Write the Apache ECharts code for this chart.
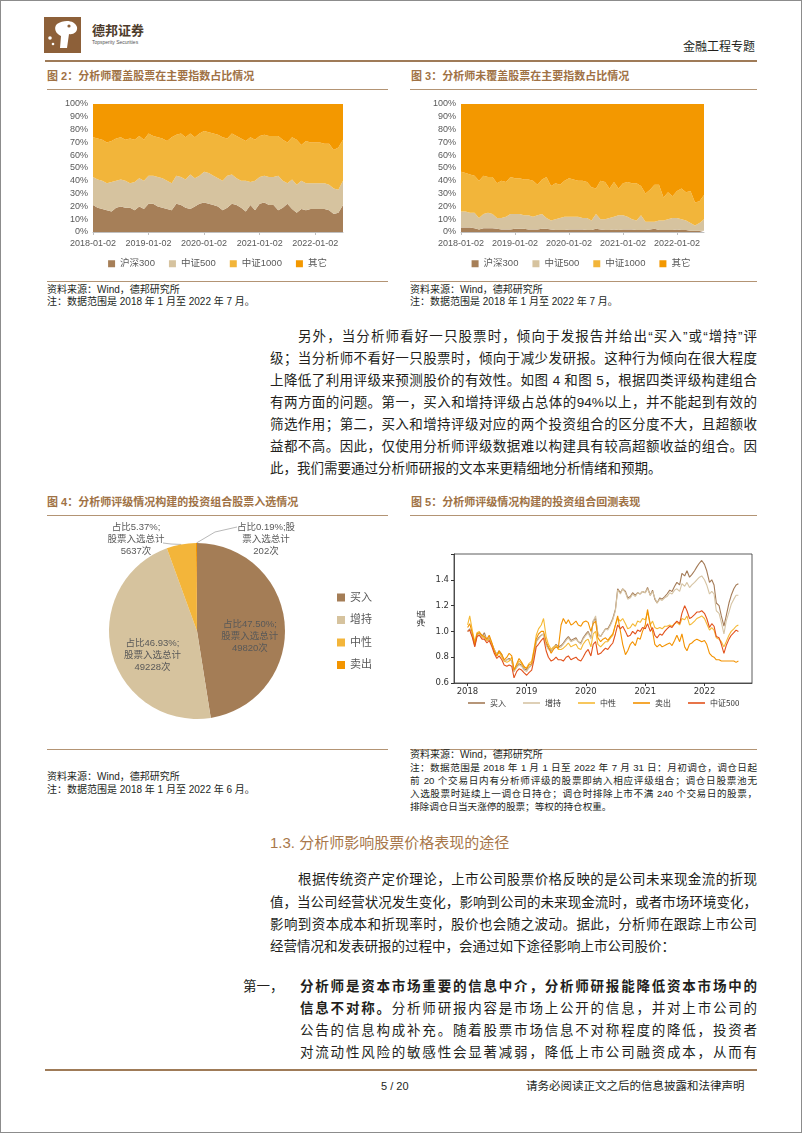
<!DOCTYPE html>
<html lang="zh-CN">
<head>
<meta charset="UTF-8">
<title>金融工程专题</title>
<script src="https://cdn.jsdelivr.net/npm/echarts@6/dist/echarts.min.js"></script>
<style>
*{margin:0;padding:0;}
body{width:802px;height:1133px;position:relative;background:#fff;overflow:hidden;
  font-family:"Liberation Sans","Noto Sans CJK SC",sans-serif;color:#231f1c;}
.frame{position:absolute;left:0;top:0;width:800px;height:1131px;border:1px solid #8c8c8c;}
.t{position:absolute;white-space:nowrap;line-height:1;}
.j{position:absolute;text-align:justify;text-align-last:justify;line-height:1;}
.rule{position:absolute;height:1px;background:#b39474;}
.bar{position:absolute;height:2px;background:#9f7b58;}
.ftitle{color:#a07245;font-weight:bold;font-size:11px;}
.src{font-size:10px;}
.note{font-size:9.6px;}
.body{font-size:13.5px;}
.chart{position:absolute;}
</style>
</head>
<body>
<div class="frame"></div>

<!-- 页眉 -->
<svg width="37" height="36" style="position:absolute;left:44px;top:17px">
  <rect x="0" y="0" width="37" height="36" fill="#8d6039"/>
  <path d="M13 7 C20 2 31 3 33 10 C34 15 29 18 25 17 L23 31 L16 31 L17 19 C12 17 9 11 13 7Z" fill="#fff"/>
  <circle cx="25" cy="9" r="1.6" fill="#8d6039"/>
  <circle cx="6" cy="21" r="1.8" fill="#fff"/>
  <circle cx="9" cy="27" r="1.3" fill="#fff"/>
</svg>
<div class="t" style="left:92px;top:24px;font-size:13px;font-weight:bold;color:#4d3b2b;">德邦证券</div>
<div class="t" style="left:92px;top:40px;font-size:5px;color:#555;">Topsperity Securities</div>
<div class="t" style="left:683px;top:41px;font-size:12px;">金融工程专题</div>
<div class="bar" style="left:45px;top:60px;width:712px;"></div>

<!-- 图2 / 图3 -->
<div class="t ftitle" style="left:47px;top:71px;">图 2：分析师覆盖股票在主要指数占比情况</div>
<div class="rule" style="left:47px;top:89px;width:341px;"></div>
<div id="fig2" class="chart" style="left:45px;top:95px;width:345px;height:182px;"></div>
<div class="rule" style="left:47px;top:281px;width:341px;"></div>
<div class="t src" style="left:47px;top:285px;">资料来源：Wind，德邦研究所</div>
<div class="t src" style="left:47px;top:297px;">注：数据范围是 2018 年 1 月至 2022 年 7 月。</div>

<div class="t ftitle" style="left:411px;top:71px;">图 3：分析师未覆盖股票在主要指数占比情况</div>
<div class="rule" style="left:410px;top:89px;width:347px;"></div>
<div id="fig3" class="chart" style="left:405px;top:95px;width:352px;height:182px;"></div>
<div class="rule" style="left:410px;top:281px;width:347px;"></div>
<div class="t src" style="left:410px;top:285px;">资料来源：Wind，德邦研究所</div>
<div class="t src" style="left:410px;top:297px;">注：数据范围是 2018 年 1 月至 2022 年 7 月。</div>

<!-- 正文一 -->
<div class="j body" style="left:270px;top:330px;width:487px;text-indent:28px;">另外，当分析师看好一只股票时，倾向于发报告并给出“买入”或“增持”评</div>
<div class="j body" style="left:270px;top:352px;width:487px;">级；当分析师不看好一只股票时，倾向于减少发研报。这种行为倾向在很大程度</div>
<div class="j body" style="left:270px;top:374px;width:487px;">上降低了利用评级来预测股价的有效性。如图 4 和图 5，根据四类评级构建组合</div>
<div class="j body" style="left:270px;top:396px;width:487px;">有两方面的问题。第一，买入和增持评级占总体的94%以上，并不能起到有效的</div>
<div class="j body" style="left:270px;top:418px;width:487px;">筛选作用；第二，买入和增持评级对应的两个投资组合的区分度不大，且超额收</div>
<div class="j body" style="left:270px;top:440px;width:487px;">益都不高。因此，仅使用分析师评级数据难以构建具有较高超额收益的组合。因</div>
<div class="t body" style="left:270px;top:462px;">此，我们需要通过分析师研报的文本来更精细地分析情绪和预期。</div>

<!-- 图4 / 图5 -->
<div class="t ftitle" style="left:47px;top:497px;">图 4：分析师评级情况构建的投资组合股票入选情况</div>
<div class="rule" style="left:47px;top:515px;width:341px;"></div>
<div id="fig4" class="chart" style="left:45px;top:520px;width:345px;height:225px;"></div>
<div class="rule" style="left:47px;top:749px;width:341px;"></div>
<div class="t src" style="left:47px;top:772px;">资料来源：Wind，德邦研究所</div>
<div class="t src" style="left:47px;top:785px;">注：数据范围是 2018 年 1 月至 2022 年 6 月。</div>

<div class="t ftitle" style="left:411px;top:497px;">图 5：分析师评级情况构建的投资组合回测表现</div>
<div class="rule" style="left:410px;top:515px;width:347px;"></div>
<div id="fig5" class="chart" style="left:405px;top:530px;width:352px;height:185px;"></div>
<div class="rule" style="left:410px;top:749px;width:347px;"></div>
<div class="t src" style="left:410px;top:750px;">资料来源：Wind，德邦研究所</div>
<div class="j note" style="left:410px;top:763px;width:347px;">注：数据范围是 2018 年 1 月 1 日至 2022 年 7 月 31 日：月初调仓，调仓日起</div>
<div class="j note" style="left:410px;top:776px;width:347px;">前 20 个交易日内有分析师评级的股票即纳入相应评级组合；调仓日股票池无</div>
<div class="j note" style="left:410px;top:789px;width:347px;">入选股票时延续上一调仓日持仓；调仓时排除上市不满 240 个交易日的股票，</div>
<div class="t note" style="left:410px;top:802px;">排除调仓日当天涨停的股票；等权的持仓权重。</div>

<!-- 1.3 -->
<div class="t" style="left:270px;top:835px;font-size:15px;color:#a8774a;">1.3. 分析师影响股票价格表现的途径</div>
<div class="j body" style="left:270px;top:873px;width:487px;text-indent:28px;">根据传统资产定价理论，上市公司股票价格反映的是公司未来现金流的折现</div>
<div class="j body" style="left:270px;top:896px;width:487px;">值，当公司经营状况发生变化，影响到公司的未来现金流时，或者市场环境变化，</div>
<div class="j body" style="left:270px;top:918px;width:487px;">影响到资本成本和折现率时，股价也会随之波动。据此，分析师在跟踪上市公司</div>
<div class="t body" style="left:270px;top:940px;">经营情况和发表研报的过程中，会通过如下途径影响上市公司股价：</div>

<div class="t body" style="left:243px;top:980px;">第一，</div>
<div class="j body" style="left:300px;top:980px;width:457px;font-weight:bold;">分析师是资本市场重要的信息中介，分析师研报能降低资本市场中的</div>
<div class="j body" style="left:300px;top:1002px;width:457px;"><b>信息不对称。</b>分析师研报内容是市场上公开的信息，并对上市公司的</div>
<div class="j body" style="left:300px;top:1024px;width:457px;">公告的信息构成补充。随着股票市场信息不对称程度的降低，投资者</div>
<div class="j body" style="left:300px;top:1046px;width:457px;">对流动性风险的敏感性会显著减弱，降低上市公司融资成本，从而有</div>

<!-- 页脚 -->
<div class="bar" style="left:45px;top:1069px;width:712px;"></div>
<div class="t" style="left:381px;top:1081px;font-size:11px;">5 / 20</div>
<div class="t" style="left:526px;top:1081px;font-size:11.5px;">请务必阅读正文之后的信息披露和法律声明</div>

<script type="text/javascript">
// ---------- 图2、图3：月度占比（%） ----------
var months = [
  '2018-01-02','2018-02-02','2018-03-02','2018-04-02','2018-05-02','2018-06-02','2018-07-02','2018-08-02','2018-09-02','2018-10-02','2018-11-02','2018-12-02',
  '2019-01-02','2019-02-02','2019-03-02','2019-04-02','2019-05-02','2019-06-02','2019-07-02','2019-08-02','2019-09-02','2019-10-02','2019-11-02','2019-12-02',
  '2020-01-02','2020-02-02','2020-03-02','2020-04-02','2020-05-02','2020-06-02','2020-07-02','2020-08-02','2020-09-02','2020-10-02','2020-11-02','2020-12-02',
  '2021-01-02','2021-02-02','2021-03-02','2021-04-02','2021-05-02','2021-06-02','2021-07-02','2021-08-02','2021-09-02','2021-10-02','2021-11-02','2021-12-02',
  '2022-01-02','2022-02-02','2022-03-02','2022-04-02','2022-05-02','2022-06-02','2022-07-02'
];
var indexNames = ['沪深300', '中证500', '中证1000', '其它'];

// 分析师覆盖
var cov300 = [21,19,18,17,16,19,20,19,19,17,20,18,22,22,20,19,18,17,22,21,19,18,20,22,23,22,21,20,17,19,22,21,19,16,21,17,22,23,21,21,17,19,22,18,15,18,17,18,18,18,18,17,14,15,21];
var cov500 = [22,22,22,21,23,21,21,21,19,22,22,22,22,22,23,23,22,21,22,22,22,27,22,22,24,24,23,22,23,25,23,21,21,24,18,23,21,21,22,22,27,21,16,23,22,22,21,20,20,20,20,20,20,18,19];
var cov1000 = [31,32,32,32,32,33,33,32,35,33,33,32,33,31,31,31,31,36,32,34,33,32,32,33,32,32,33,34,34,29,32,33,33,31,35,32,32,32,32,32,31,32,32,33,35,28,33,32,32,32,31,32,30,33,32];
var covOther = [26,27,28,30,29,27,26,28,27,28,25,28,23,25,26,27,29,26,24,23,26,23,26,23,21,22,23,24,26,27,23,25,27,29,26,28,25,24,25,25,25,28,30,26,28,32,29,30,30,30,31,31,36,34,28];

// 分析师未覆盖
var unc300 = [3.5,3.5,3.5,3,2,3,3,3,2.5,2,2,2,2.5,2.5,2.5,2,2,2,2.5,2.5,2,1.5,1.5,1.5,2,2,2,2,1.5,1.5,2.5,2,1.5,1.5,2,1.5,2,2,2,1.5,1.5,1.5,2,2.5,1.5,1.5,1.5,1.5,2,1.5,1.5,1,1,1,1];
var unc500 = [12.5,12.5,11.5,12,9,11,12,11,8.5,9,10,12,11.5,11.5,10.5,11,10,11,11.5,8.5,7,8.5,9.5,10.5,10,10,10,9,9.5,7.5,11.5,8,8.5,9.5,10,11.5,11,10,8,7.5,11.5,6.5,6,5.5,7.5,7.5,8.5,9.5,9,8.5,7.5,6,4,6,9];
var unc1000 = [31,30,30,29,29,30,28,29,27,29,27,29,28,28,28,28,28,24,27,32,27,28,26,28,30,29,28,29,28,26,20,30,29,23,27,21,25,27,28,29,23,22,25,29,28,18,21,17,21,24,22,25,18,17,19];
var uncOther = [53,54,55,56,60,56,57,57,62,60,61,57,58,58,59,59,60,63,59,57,64,62,63,60,58,59,60,60,61,65,66,60,61,66,61,66,62,61,62,62,64,70,67,63,63,73,69,72,68,66,69,68,77,76,71];

var areaColors = ['#a67f58', '#d6c39f', '#f2b53a', '#f39800'];

// ---------- 图4：各评级入选次数 ----------
var ratingNames = ['买入', '增持', '中性', '卖出'];
var ratingCounts = [49820, 49228, 5637, 202];
var ratingColors = ['#a47d56', '#d6c39e', '#f3b53a', '#f39500'];

// ---------- 图5：组合净值（半月取点） ----------
var navDates = [
  '2018-01-02','2018-01-15','2018-02-01','2018-02-15','2018-03-01','2018-03-15','2018-04-01','2018-04-15','2018-05-01','2018-05-15','2018-06-01','2018-06-15',
  '2018-07-01','2018-07-15','2018-08-01','2018-08-15','2018-09-01','2018-09-15','2018-10-01','2018-10-15','2018-11-01','2018-11-15','2018-12-01','2018-12-15',
  '2019-01-01','2019-01-15','2019-02-01','2019-02-15','2019-03-01','2019-03-15','2019-04-01','2019-04-15','2019-05-01','2019-05-15','2019-06-01','2019-06-15',
  '2019-07-01','2019-07-15','2019-08-01','2019-08-15','2019-09-01','2019-09-15','2019-10-01','2019-10-15','2019-11-01','2019-11-15','2019-12-01','2019-12-15',
  '2020-01-01','2020-01-15','2020-02-01','2020-02-15','2020-03-01','2020-03-15','2020-04-01','2020-04-15','2020-05-01','2020-05-15','2020-06-01','2020-06-15',
  '2020-07-01','2020-07-15','2020-08-01','2020-08-15','2020-09-01','2020-09-15','2020-10-01','2020-10-15','2020-11-01','2020-11-15','2020-12-01','2020-12-15',
  '2021-01-01','2021-01-15','2021-02-01','2021-02-15','2021-03-01','2021-03-15','2021-04-01','2021-04-15','2021-05-01','2021-05-15','2021-06-01','2021-06-15',
  '2021-07-01','2021-07-15','2021-08-01','2021-08-15','2021-09-01','2021-09-15','2021-10-01','2021-10-15','2021-11-01','2021-11-15','2021-12-01','2021-12-15',
  '2022-01-01','2022-01-15','2022-02-01','2022-02-15','2022-03-01','2022-03-15','2022-04-01','2022-04-15','2022-05-01','2022-05-15','2022-06-01','2022-06-15',
  '2022-07-01','2022-07-15','2022-07-29'
];
var navBuy = [
  1.00,1.02,0.96,0.89,0.97,0.98,0.96,0.99,0.93,0.95,0.90,0.86, 0.82,0.85,0.82,0.77,0.78,0.79,0.77,0.69,0.73,0.75,0.74,0.71,
  0.70,0.72,0.74,0.82,0.92,0.95,0.97,0.98,0.90,0.87,0.85,0.87, 0.90,0.88,0.89,0.91,0.94,0.96,0.93,0.94,0.95,0.92,0.91,0.95,
  0.98,1.00,0.95,1.08,1.10,0.98,0.96,0.99,1.02,1.02,1.06,1.10, 1.17,1.33,1.30,1.33,1.31,1.26,1.27,1.30,1.28,1.30,1.29,1.31,
  1.30,1.34,1.28,1.32,1.25,1.22,1.26,1.25,1.27,1.29,1.32,1.31, 1.35,1.38,1.36,1.45,1.43,1.47,1.42,1.44,1.47,1.50,1.53,1.55,
  1.52,1.47,1.38,1.40,1.36,1.22,1.20,1.12,1.04,1.12,1.22,1.28, 1.33,1.36,1.37
];
var navAdd = [
  1.00,1.01,0.97,0.90,0.97,0.98,0.95,0.97,0.93,0.96,0.90,0.86, 0.82,0.84,0.81,0.77,0.78,0.78,0.77,0.69,0.72,0.74,0.73,0.70,
  0.69,0.72,0.74,0.82,0.92,0.94,0.97,0.98,0.89,0.86,0.84,0.87, 0.89,0.87,0.88,0.90,0.93,0.95,0.92,0.93,0.94,0.92,0.90,0.94,
  0.97,0.99,0.94,1.08,1.12,0.98,0.96,0.99,1.02,1.01,1.05,1.09, 1.16,1.32,1.29,1.33,1.30,1.25,1.26,1.29,1.27,1.30,1.29,1.31,
  1.30,1.33,1.28,1.31,1.26,1.22,1.25,1.24,1.26,1.27,1.30,1.29, 1.32,1.33,1.31,1.37,1.35,1.38,1.34,1.36,1.38,1.40,1.42,1.43,
  1.40,1.36,1.29,1.31,1.29,1.16,1.14,1.07,0.98,1.08,1.15,1.21, 1.25,1.28,1.28
];
var navNeutral = [
  1.05,1.12,1.00,0.92,0.99,1.00,0.96,0.95,0.93,0.94,0.90,0.85, 0.81,0.84,0.80,0.77,0.76,0.77,0.80,0.70,0.74,0.77,0.75,0.72,
  0.72,0.75,0.77,0.86,0.97,1.02,1.05,1.10,0.96,0.90,0.86,0.88, 0.89,0.86,0.86,0.87,0.89,0.91,0.88,0.89,0.90,0.87,0.86,0.90,
  0.93,0.94,0.88,0.98,1.00,0.90,0.88,0.90,0.92,0.92,0.95,0.97, 1.05,1.10,1.08,1.10,1.06,1.02,1.03,1.06,1.04,1.08,1.07,1.10,
  1.09,1.15,1.05,1.08,1.03,1.02,1.03,1.02,1.04,1.04,1.05,1.04, 1.06,1.07,1.05,1.10,1.09,1.12,1.05,1.06,1.08,1.10,1.11,1.12,
  1.10,1.06,1.01,1.03,1.01,0.95,0.94,0.92,0.88,0.92,0.97,1.00, 1.02,1.04,1.05
];
var navSell = [
  1.03,1.06,0.98,0.90,0.98,0.99,0.97,0.96,0.94,0.97,0.91,0.85, 0.81,0.85,0.82,0.78,0.80,0.83,0.81,0.70,0.75,0.79,0.76,0.73,
  0.71,0.74,0.75,0.85,0.94,0.98,1.00,1.00,0.92,0.88,0.83,0.86, 0.88,0.87,1.05,1.10,1.06,1.09,1.05,1.06,1.08,1.05,1.04,1.07,
  1.08,1.07,1.00,1.06,1.08,0.95,0.92,0.94,0.95,0.93,0.96,0.98, 1.05,1.12,1.00,0.90,0.82,0.85,0.90,0.92,0.89,0.95,0.94,1.00,
  1.05,1.17,1.05,1.00,0.90,0.88,0.90,0.88,0.89,0.90,0.91,0.89, 0.93,0.97,0.92,0.98,0.88,0.85,0.90,0.91,0.93,0.94,0.93,0.92,
  0.93,0.90,0.83,0.81,0.80,0.78,0.78,0.77,0.77,0.77,0.77,0.77, 0.77,0.76,0.77
];
var navCsi500 = [
  1.00,1.01,0.95,0.88,0.96,0.97,0.94,0.94,0.91,0.93,0.88,0.83, 0.79,0.81,0.78,0.74,0.73,0.74,0.73,0.64,0.69,0.71,0.70,0.68,
  0.66,0.68,0.70,0.78,0.88,0.90,0.93,0.95,0.85,0.80,0.77,0.78, 0.80,0.78,0.78,0.77,0.80,0.81,0.78,0.79,0.80,0.78,0.77,0.80,
  0.84,0.86,0.81,0.90,0.92,0.82,0.83,0.85,0.87,0.86,0.89,0.91, 0.98,1.05,1.02,1.04,1.00,0.96,0.97,1.00,0.98,1.01,1.00,1.03,
  1.02,1.06,1.00,1.03,0.97,0.95,0.98,0.97,1.00,1.02,1.04,1.03, 1.06,1.08,1.06,1.14,1.20,1.16,1.10,1.11,1.13,1.15,1.15,1.16,
  1.14,1.10,1.03,1.06,1.04,0.96,0.95,0.90,0.83,0.89,0.94,0.97, 0.99,1.01,1.00
];
var navNames = ['买入', '增持', '中性', '卖出', '中证500'];
var navColors = ['#a47b57', '#d6c4a4', '#f5b935', '#f39200', '#e2521c'];

var latin = '"Liberation Sans","Noto Sans CJK SC",sans-serif';

// 堆叠面积图（图2、图3共用）
function shareOption(series, gridLeft, gridRight) {
    return {
        animation: false,
        textStyle: { fontFamily: latin },
        legend: {
            top: 159, left: 'center', icon: 'rect',
            itemWidth: 7, itemHeight: 7, itemGap: 14,
            textStyle: { fontSize: 9.5, color: '#595959' },
            data: indexNames
        },
        grid: { left: gridLeft, right: gridRight, top: 9, height: 128 },
        xAxis: {
            type: 'category', boundaryGap: false, data: months,
            axisLine: { lineStyle: { color: '#bfbfbf' } },
            axisTick: { show: true, interval: 11, length: 3, lineStyle: { color: '#bfbfbf' } },
            axisLabel: { interval: 11, color: '#595959', fontSize: 9, margin: 7 }
        },
        yAxis: {
            type: 'value', min: 0, max: 100, interval: 10,
            axisLabel: { formatter: '{value}%', color: '#595959', fontSize: 9, margin: 5 },
            axisLine: { show: false }, axisTick: { show: false }, splitLine: { show: false }
        },
        series: series.map(function (vals, i) {
            return {
                name: indexNames[i], type: 'line', stack: 'all', data: vals,
                symbol: 'none', lineStyle: { width: 0 },
                itemStyle: { color: areaColors[i] },
                areaStyle: { color: areaColors[i], opacity: 1 }
            };
        })
    };
}

var fig2 = echarts.init(document.getElementById('fig2'));
fig2.setOption(shareOption([cov300, cov500, cov1000, covOther], 48, 47));

var fig3 = echarts.init(document.getElementById('fig3'));
fig3.setOption(shareOption([unc300, unc500, unc1000, uncOther], 56, 53));

// 饼图
var ratingTotal = ratingCounts.reduce(function (a, b) { return a + b; }, 0);
var fig4 = echarts.init(document.getElementById('fig4'));
fig4.setOption({
    animation: false,
    textStyle: { fontFamily: latin },
    legend: {
        orient: 'vertical', left: 287, top: 67, icon: 'rect',
        itemWidth: 8, itemHeight: 8, itemGap: 11.5,
        textStyle: { fontSize: 11, color: '#595959' },
        data: ratingNames
    },
    series: [{
        type: 'pie', center: [152, 111], radius: 88,
        startAngle: 90, clockwise: true,
        data: ratingNames.map(function (n, i) {
            return {
                name: n, value: ratingCounts[i],
                itemStyle: { color: ratingColors[i] },
                label: { position: i < 2 ? 'inside' : 'outside' },
                labelLine: { show: i >= 2 }
            };
        }),
        label: {
            color: '#595959', fontSize: 9.5, lineHeight: 12, align: 'center', overflow: 'none',
            formatter: function (p) {
                var pct = '占比' + (p.value / ratingTotal * 100).toFixed(2) + '%;';
                if (p.dataIndex === 3) return pct + '股\n票入选总计\n' + p.value + '次';
                return pct + '\n股票入选总计\n' + p.value + '次';
            }
        },
        labelLine: { lineStyle: { color: '#a6a6a6', width: 0.8 }, length: 10, length2: 10 },
        labelLayout: function (p) {
            var edge = p.labelLinePoints ? p.labelLinePoints[0] : null;
            if (p.dataIndex === 0) return { dx: 6, dy: 9 };
            if (p.dataIndex === 1) return { dx: 1, dy: 13 };
            if (p.dataIndex === 2) {
                return { x: 91, y: 19, align: 'center', verticalAlign: 'middle',
                    labelLinePoints: [edge, [126, 24], [118, 23]] };
            }
            if (p.dataIndex === 3) {
                return { x: 221, y: 19, align: 'center', verticalAlign: 'middle',
                    labelLinePoints: [edge, [170, 12], [192, 7]] };
            }
        }
    }]
});

// 净值曲线
var navSeries = [navBuy, navAdd, navNeutral, navSell, navCsi500];
var fig5 = echarts.init(document.getElementById('fig5'));
fig5.setOption({
    animation: false,
    textStyle: { fontFamily: '"DejaVu Sans","Noto Sans CJK SC",sans-serif' },
    legend: {
        left: 58, top: 164, icon: 'rect',
        itemWidth: 17, itemHeight: 1.6, itemGap: 17,
        textStyle: { fontSize: 8, color: '#333', fontFamily: '"Noto Sans CJK SC",sans-serif' },
        data: navNames
    },
    grid: { left: 49, right: 5, top: 24, height: 129, show: true, borderColor: '#333', borderWidth: 0.8 },
    xAxis: {
        type: 'time', min: '2017-10-10', max: '2022-10-21', splitNumber: 5,
        axisLine: { lineStyle: { color: '#333', width: 0.8 } },
        axisTick: { show: true, length: 3, lineStyle: { color: '#333' } },
        axisLabel: { formatter: '{yyyy}', fontSize: 8.5, color: '#333', margin: 5, showMinLabel: false, showMaxLabel: false },
        splitLine: { show: false }
    },
    yAxis: {
        type: 'value', min: 0.6, max: 1.6, interval: 0.2,
        name: '净值', nameLocation: 'middle', nameGap: 19,
        nameTextStyle: { fontSize: 8.5, color: '#333', fontFamily: '"Noto Sans CJK SC",sans-serif' },
        axisLine: { show: true, lineStyle: { color: '#333', width: 0.8 } },
        axisTick: { show: true, length: 3, lineStyle: { color: '#333' } },
        axisLabel: {
            fontSize: 8.5, color: '#333', margin: 5,
            formatter: function (v) { return v > 1.5 ? '' : v.toFixed(1); }
        },
        splitLine: { show: false }
    },
    series: navSeries.map(function (vals, i) {
        return {
            name: navNames[i], type: 'line', symbol: 'none',
            data: navDates.map(function (d, k) { return [d, vals[k]]; }),
            lineStyle: { width: 1.1, color: navColors[i] },
            itemStyle: { color: navColors[i] }
        };
    })
});
</script>
</body>
</html>
